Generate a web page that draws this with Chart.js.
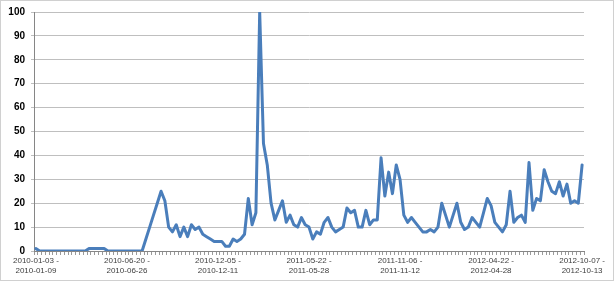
<!DOCTYPE html>
<html>
<head>
<meta charset="utf-8">
<script src="https://cdn.jsdelivr.net/npm/chart.js@4/dist/chart.umd.min.js"></script>
<style>
  html, body { margin: 0; padding: 0; background: #fff; }
  #wrap { position: relative; width: 615px; height: 282px; }
  canvas { display: block; }
</style>
</head>
<body>
<div id="wrap"><canvas id="c" width="615" height="282"></canvas></div>
<script>
// ---- data ----
const firstWeekStart = '2010-01-03';
const weeklyValues = [
  1, 0, 0, 0, 0, 0, 0, 0, 0, 0,
  0, 0, 0, 0, 1, 1, 1, 1, 1, 0,
  0, 0, 0, 0, 0, 0, 0, 0, 0, 5,
  10, 15, 20, 25, 21, 10, 8, 11, 6, 10,
  6, 11, 9, 10, 7, 6, 5, 4, 4, 4,
  2, 2, 5, 4, 5, 7, 22, 11, 16, 100,
  45, 36, 20, 13, 17, 21, 12, 15, 11, 10,
  14, 11, 10, 5, 8, 7, 12, 14, 10, 8,
  9, 10, 18, 16, 17, 10, 10, 17, 11, 13,
  13, 39, 23, 33, 24, 36, 30, 15, 12, 14,
  12, 10, 8, 8, 9, 8, 10, 20, 15, 10,
  15, 20, 12, 9, 10, 14, 12, 10, 16, 22,
  19, 12, 10, 8, 11, 25, 12, 14, 15, 12,
  37, 17, 22, 21, 34, 29, 25, 24, 29, 23,
  28, 20, 21, 20, 36
];
const labelEvery = 24;
const yTicks = [0, 10, 20, 30, 40, 50, 60, 70, 80, 90, 100];

// week category labels "start - end"
function fmt(d) { return d.toISOString().slice(0, 10); }
const weekStarts = [];
const weekEnds = [];
const base = new Date(firstWeekStart + 'T00:00:00Z');
for (let i = 0; i < weeklyValues.length; i++) {
  const s = new Date(base.getTime() + i * 7 * 86400000);
  const e = new Date(s.getTime() + 6 * 86400000);
  weekStarts.push(fmt(s));
  weekEnds.push(fmt(e));
}
const categories = weekStarts.map((s, i) => s + ' - ' + weekEnds[i]);

const borderPlugin = {
  id: 'outerBorder',
  afterDraw(chart) {
    const ctx = chart.ctx;
    ctx.save();
    ctx.strokeStyle = '#d0d0d0';
    ctx.lineWidth = 1;
    ctx.strokeRect(0.5, 0.5, chart.width - 2, chart.height - 2);
    ctx.restore();
  }
};

new Chart(document.getElementById('c'), {
  type: 'line',
  data: {
    labels: categories,
    datasets: [{
      data: weeklyValues,
      borderColor: '#4A7EBB',
      borderWidth: 3,
      pointRadius: 0,
      tension: 0,
      fill: false,
      borderJoinStyle: 'round',
      borderCapStyle: 'round'
    }]
  },
  options: {
    responsive: false,
    animation: false,
    events: [],
    layout: { padding: { top: 11, right: 31, bottom: 0, left: 0 } },
    plugins: { legend: { display: false }, tooltip: { enabled: false } },
    scales: {
      x: {
        offset: true,
        afterFit(scale) { scale.height = 31; },
        border: { display: true, color: '#868686', width: 1 },
        grid: { display: true, drawOnChartArea: false, drawTicks: true, tickLength: 4, offset: true, color: '#9a9a9a' },
        ticks: {
          autoSkip: false,
          maxRotation: 0,
          minRotation: 0,
          padding: 1,
          color: '#404040',
          font: { family: 'Liberation Sans', size: 8 },
          callback(value, index) {
            if (index % labelEvery !== 0) return '';
            return [weekStarts[index] + ' -', weekEnds[index]];
          }
        }
      },
      y: {
        min: 0,
        max: 100,
        afterFit(scale) { scale.width = 34; },
        afterBuildTicks(scale) { scale.ticks = yTicks.map(v => ({ value: v })); },
        border: { display: true, color: '#868686', width: 1 },
        grid: { color: '#bfbfbf', lineWidth: 1, tickLength: 3 },
        ticks: {
          padding: 6,
          color: '#000000',
          font: { family: 'Liberation Sans', size: 10, weight: 'bold' }
        }
      }
    }
  },
  plugins: [borderPlugin]
});
</script>
</body>
</html>
